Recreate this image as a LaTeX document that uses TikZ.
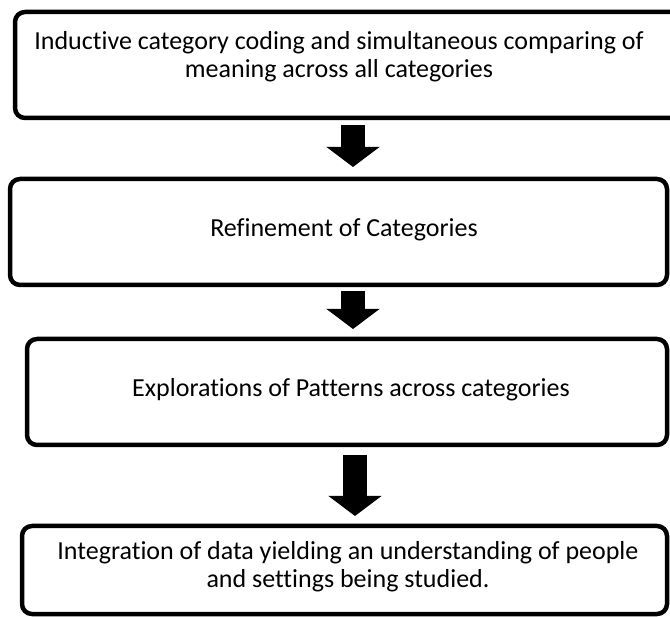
\documentclass[tikz,border=0pt]{standalone}
\usepackage{fontspec}
\setmainfont{Carlito}[Ligatures=NoCommon]
\usetikzlibrary{arrows.meta}
\begin{document}
\begin{tikzpicture}[x=1pt,y=-1pt,
  box/.style={draw, line width=4.5pt, rounded corners=10pt, inner sep=0pt, fill=white},
  boxtext/.style={font=\fontsize{26}{28}\selectfont, align=center, inner sep=0pt},
  flow/.style={line width=24pt, -{Triangle[width=52pt,length=20pt]}}]
\useasboundingbox (0,0) rectangle (670,617);
\clip (0,0) rectangle (670,617);
\node[box, minimum width=686pt, minimum height=106pt] (b1) at (358,65) {};
\node[box, minimum width=657pt, minimum height=106pt] (b2) at (338.5,232) {};
\node[box, minimum width=640pt, minimum height=106pt] (b3) at (347,392) {};
\node[box, minimum width=645pt, minimum height=88pt] (b4) at (344.5,570) {};
\node[boxtext] (t1) at (339,57) {Inductive category coding and simultaneous comparing of\\meaning across all categories};
\node[boxtext] (t2) at (344,230) {Refinement of Categories};
\node[boxtext] (t3) at (351,390) {Explorations of Patterns across categories};
\node[boxtext] (t4) at (348,567) {Integration of data yielding an understanding of people\\and settings being studied.};
\coordinate (a1s) at (353,125);
\coordinate (a1e) at (353,167);
\coordinate (a2s) at (353,291);
\coordinate (a2e) at (353,329);
\coordinate (a3s) at (355,455);
\coordinate (a3e) at (355,516);
\draw[flow] (a1s) -- (a1e);
\draw[flow] (a2s) -- (a2e);
\draw[flow] (a3s) -- (a3e);
\end{tikzpicture}
\end{document}
